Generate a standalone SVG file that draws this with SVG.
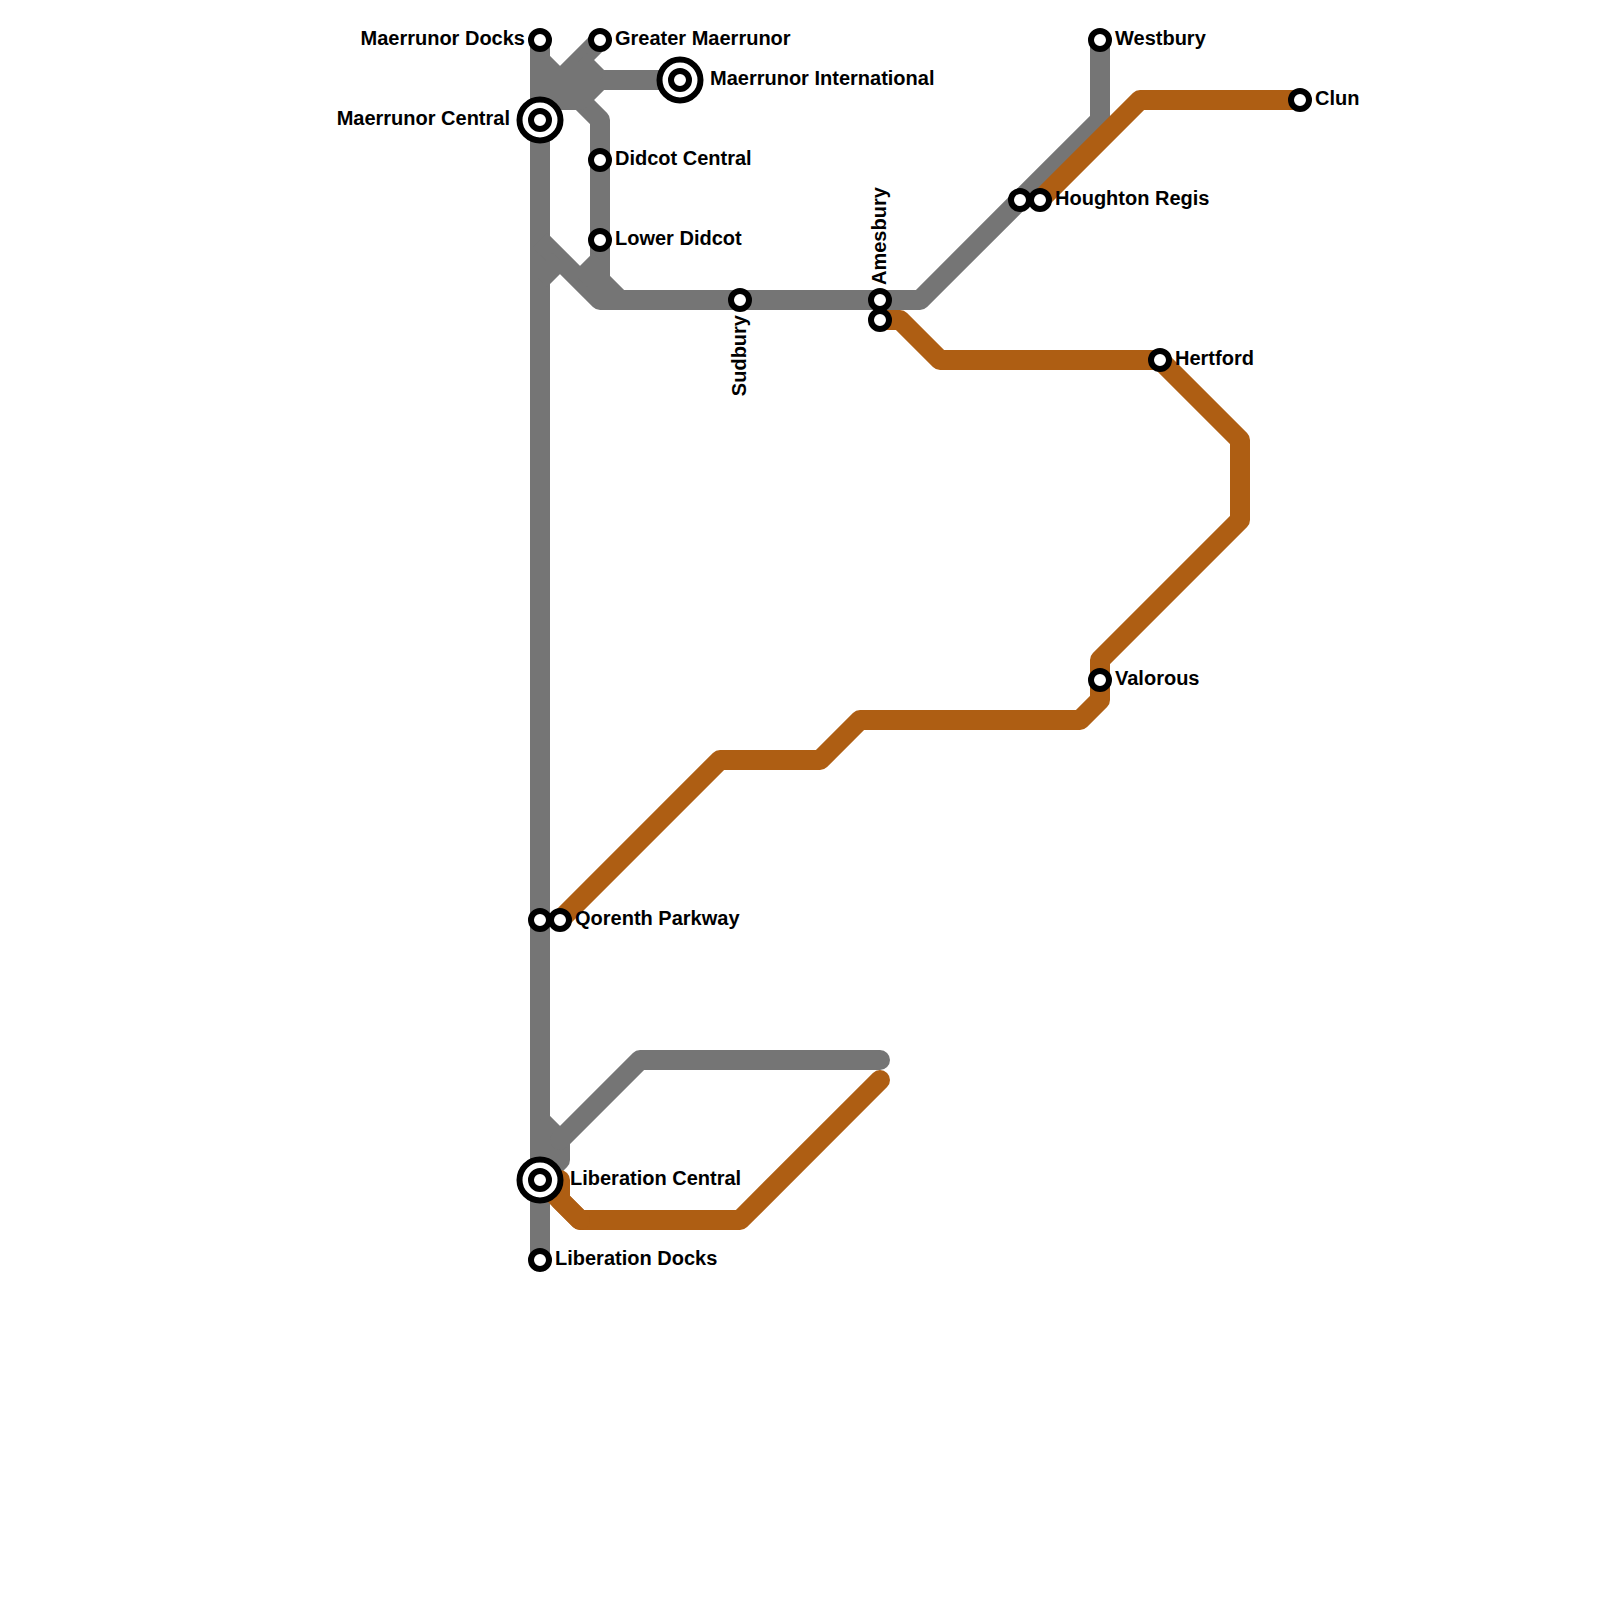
<svg xmlns="http://www.w3.org/2000/svg" width="1600" height="1600" viewBox="0 0 1600 1600">
<style>
.g{fill:none;stroke:#757575;stroke-width:20;stroke-linejoin:round;stroke-linecap:butt}
.o{fill:none;stroke:#ae5e13;stroke-width:20;stroke-linejoin:round;stroke-linecap:round}
.s{fill:#fff;stroke:#000;stroke-width:6}
.b{fill:#fff;stroke:#000;stroke-width:6}
text{font-family:"Liberation Sans",Arial,sans-serif;font-weight:700;font-size:20px;fill:#000}
</style>
<rect width="1600" height="1600" fill="#fff"/>
<g id="connectors">
<path class="g" d="M540 40V1260"/>
<path class="g" d="M540 60L580 100L600 120V280L620 300"/>
<path class="g" d="M600 40L540 100H580L600 80H680"/>
<path class="g" d="M580 60L600 80"/>
<path class="g" d="M540 80H600"/>
<path class="g" d="M540 240L600 300H920L1100 120V40"/>
<path class="g" d="M600 260L580 280"/>
<path class="g" d="M540 280L560 260"/>
<path class="g" d="M540 1120L560 1140V1160L540 1180"/>
<path class="g" style="stroke-linecap:round" d="M880 1060H640L560 1140"/>
<path class="o" d="M560 920L720 760H820L860 720H1080L1100 700V660L1240 520V440L1160 360H940L900 320H880"/>
<path class="o" d="M1040 200L1140 100H1300"/>
<path class="o" d="M560 1180V1200L580 1220H740L880 1080"/>
<path class="o" d="M540 1180L580 1220"/>
</g>
<g id="maerrunor-docks"><circle class="s" cx="540" cy="40" r="9"/><text x="525" y="45" text-anchor="end">Maerrunor Docks</text></g>
<g id="maerrunor-central"><circle class="b" cx="540" cy="120" r="20.5"/><circle class="s" cx="540" cy="120" r="9"/><text x="510" y="125" text-anchor="end">Maerrunor Central</text></g>
<g id="greater-maerrunor"><circle class="s" cx="600" cy="40" r="9"/><text x="615" y="45">Greater Maerrunor</text></g>
<g id="maerrunor-international"><circle class="b" cx="680" cy="80" r="20.5"/><circle class="s" cx="680" cy="80" r="9"/><text x="710" y="85">Maerrunor International</text></g>
<g id="didcot-central"><circle class="s" cx="600" cy="160" r="9"/><text x="615" y="165">Didcot Central</text></g>
<g id="lower-didcot"><circle class="s" cx="600" cy="240" r="9"/><text x="615" y="245">Lower Didcot</text></g>
<g id="sudbury"><circle class="s" cx="740" cy="300" r="9"/><text transform="translate(746 315) rotate(-90)" text-anchor="end">Sudbury</text></g>
<g id="amesbury"><circle class="s" cx="880" cy="300" r="9"/><text transform="translate(886 285) rotate(-90)">Amesbury</text></g>
<g id="amesbury-orange"><circle class="s" cx="880" cy="320" r="9"/></g>
<g id="houghton-grey"><circle class="s" cx="1020" cy="200" r="9"/></g>
<g id="houghton-regis"><circle class="s" cx="1040" cy="200" r="9"/><text x="1055" y="205">Houghton Regis</text></g>
<g id="westbury"><circle class="s" cx="1100" cy="40" r="9"/><text x="1115" y="45">Westbury</text></g>
<g id="clun"><circle class="s" cx="1300" cy="100" r="9"/><text x="1315" y="105">Clun</text></g>
<g id="hertford"><circle class="s" cx="1160" cy="360" r="9"/><text x="1175" y="365">Hertford</text></g>
<g id="valorous"><circle class="s" cx="1100" cy="680" r="9"/><text x="1115" y="685">Valorous</text></g>
<g id="qorenth-grey"><circle class="s" cx="540" cy="920" r="9"/></g>
<g id="qorenth-parkway"><circle class="s" cx="560" cy="920" r="9"/><text x="575" y="925">Qorenth Parkway</text></g>
<g id="liberation-central"><circle class="b" cx="540" cy="1180" r="20.5"/><circle class="s" cx="540" cy="1180" r="9"/><text x="570" y="1185">Liberation Central</text></g>
<g id="liberation-docks"><circle class="s" cx="540" cy="1260" r="9"/><text x="555" y="1265">Liberation Docks</text></g>
</svg>
